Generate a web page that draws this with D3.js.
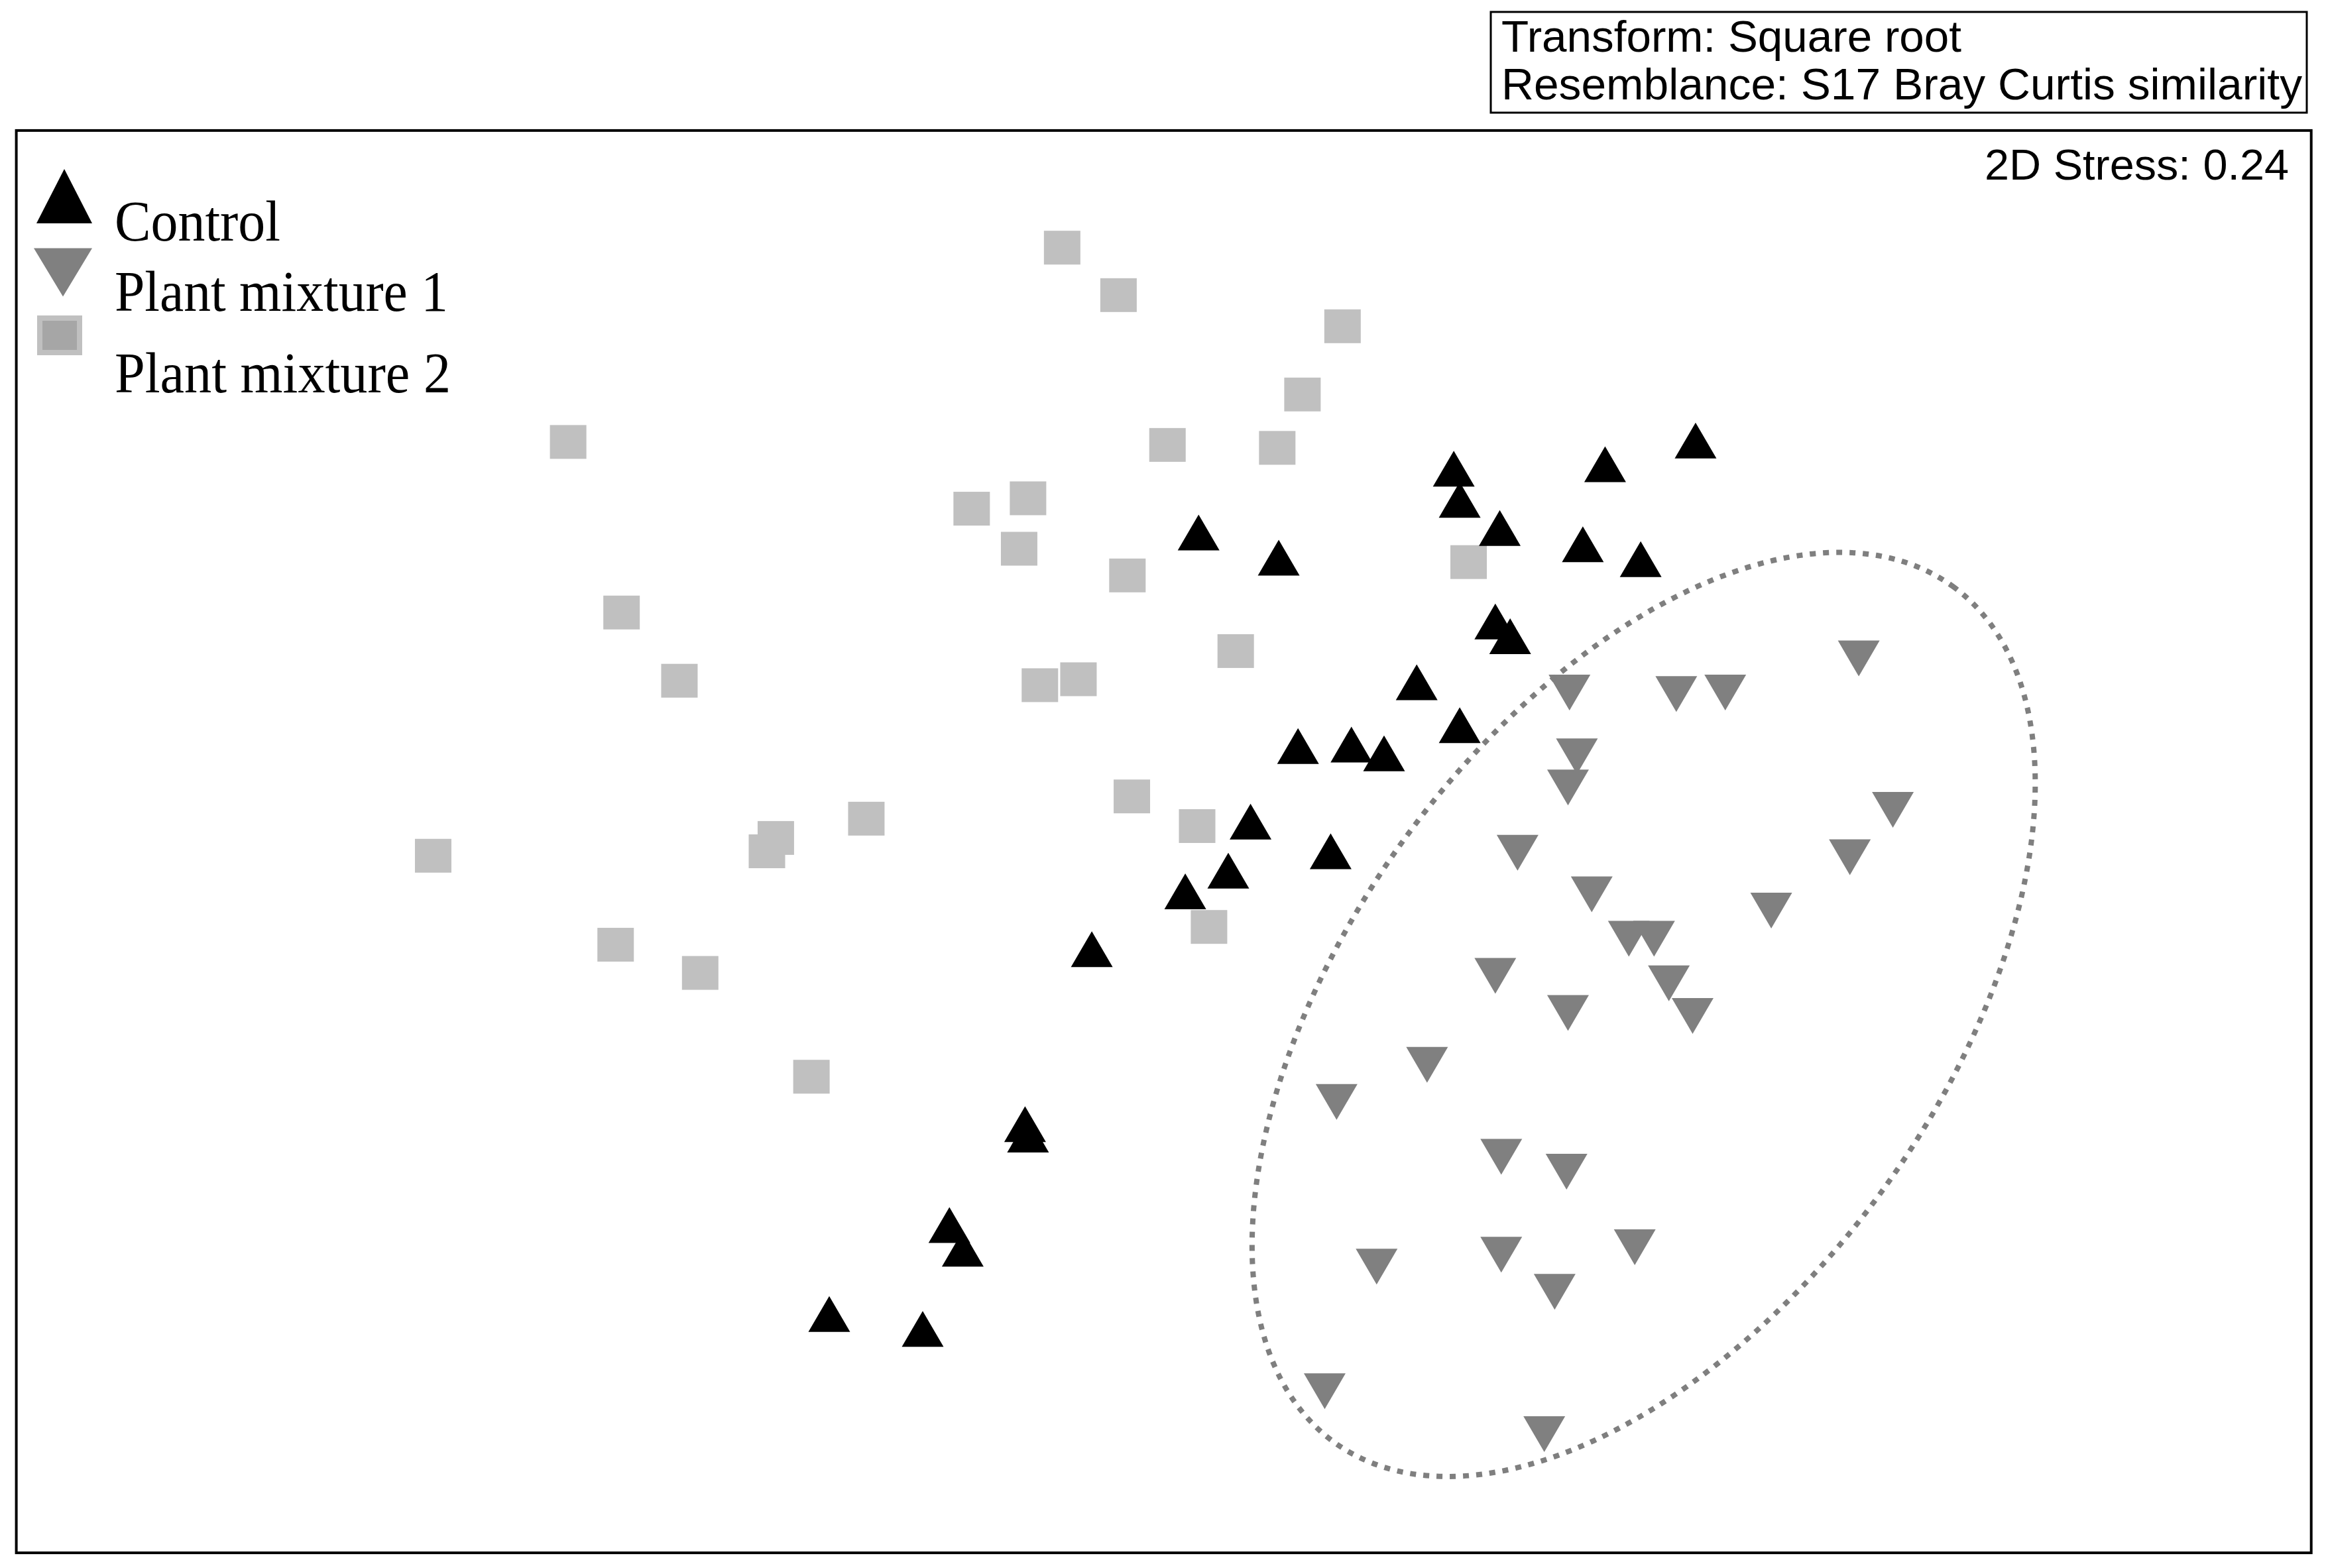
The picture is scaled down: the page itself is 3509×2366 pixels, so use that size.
<!DOCTYPE html>
<html><head><meta charset="utf-8">
<script src="https://cdn.jsdelivr.net/npm/d3@7"></script>
<style>html,body{margin:0;padding:0;background:#fff;} svg{display:block;}</style>
</head><body>
<svg id="chart" width="3509" height="2366"></svg>
<script>
// ---- data (NMDS coordinates, arbitrary units) ----
const groups = ["Control", "Plant mixture 1", "Plant mixture 2"];

const controlX = [3.58, 2.97, 1.95, 1.99, 2.26, 2.82, 3.21, 0.23, 0.77, 2.23, 2.33, 1.70, 1.99, 0.90, 1.26, 1.48, 0.58, 1.12, 0.43, 0.14, -0.49, -0.94, -0.92, -1.45, -1.36, -2.26, -1.63];
const controlY = [2.71, 2.55, 2.52, 2.31, 2.12, 2.01, 1.91, 2.09, 1.92, 1.49, 1.39, 1.08, 0.79, 0.65, 0.66, 0.60, 0.14, -0.06, -0.19, -0.33, -0.72, -1.90, -1.97, -2.58, -2.74, -3.18, -3.28];

const mix1X = [4.68, 2.73, 3.45, 3.78, 2.78, 2.72, 4.91, 2.38, 4.62, 2.88, 4.09, 3.13, 3.30, 2.23, 3.40, 2.72, 3.56, 1.77, 1.16, 2.27, 2.71, 1.43, 2.27, 3.17, 2.63, 1.08, 2.56];
const mix1Y = [1.24, 1.01, 1.00, 1.01, 0.58, 0.37, 0.22, -0.07, -0.10, -0.35, -0.46, -0.65, -0.65, -0.90, -0.95, -1.15, -1.17, -1.50, -1.75, -2.12, -2.22, -2.86, -2.78, -2.73, -3.03, -3.70, -3.99];

const mix2X = [-0.69, -0.31, 1.20, 0.93, -4.02, 0.02, 0.76, -0.92, -1.30, -0.98, 2.05, -0.25, -3.66, 0.48, -3.27, -0.58, -0.84, -0.22, -2.01, 0.22, -2.62, -2.68, -4.93, 0.30, -3.70, -3.13, -2.38];
const mix2Y = [4.01, 3.69, 3.48, 3.02, 2.70, 2.68, 2.66, 2.32, 2.25, 1.98, 1.89, 1.80, 1.55, 1.29, 1.09, 1.10, 1.06, 0.31, 0.16, 0.11, 0.03, -0.06, -0.09, -0.57, -0.69, -0.88, -1.58];

// dotted ellipse around Plant mixture 1
const ellipseCenter = [3.23, -1.16];
const ellipseAxes = [3.56, 2.00];
const ellipseAngleDeg = 54.2;

const stressLabel = "2D Stress: 0.24";
const infoLines = ["Transform: Square root", "Resemblance: S17 Bray Curtis similarity"];

const xDomain = [-7.74, 7.73];
const yDomain = [-4.79, 4.80];

// ---- drawing ----
const svg = d3.select("#chart");
const frame = {left: 24.6, top: 196.9, right: 3486.7, bottom: 2343.1};
const x = d3.scaleLinear().domain(xDomain).range([frame.left, frame.right]);
const y = d3.scaleLinear().domain(yDomain).range([frame.bottom, frame.top]);

svg.append("rect").attr("width", 3509).attr("height", 2366).attr("fill", "#fff");

// info box
svg.append("rect").attr("x", 2249).attr("y", 18).attr("width", 1231).attr("height", 152)
  .attr("fill", "none").attr("stroke", "#000").attr("stroke-width", 3);
const infoG = svg.append("g").attr("font-family", "'Liberation Sans', Arial, sans-serif").attr("font-size", 67).attr("fill", "#000");
infoG.append("text").attr("x", 2265).attr("y", 78).attr("textLength", 694).attr("lengthAdjust", "spacingAndGlyphs").text(infoLines[0]);
infoG.append("text").attr("x", 2265).attr("y", 150).attr("textLength", 1208).attr("lengthAdjust", "spacingAndGlyphs").text(infoLines[1]);

// plot frame
svg.append("rect").attr("x", frame.left).attr("y", frame.top)
  .attr("width", frame.right - frame.left).attr("height", frame.bottom - frame.top)
  .attr("fill", "none").attr("stroke", "#000").attr("stroke-width", 4);

// stress label
svg.append("text").attr("x", 2994).attr("y", 271)
  .attr("font-family", "'Liberation Sans', Arial, sans-serif").attr("font-size", 64)
  .attr("textLength", 459).attr("lengthAdjust", "spacingAndGlyphs").attr("fill", "#000").text(stressLabel);

// marker shapes
const TW = 63, TH = 54, SW = 55, SH = 51;
const upTri = (w, h) => `M0,${-h/2}L${w/2},${h/2}L${-w/2},${h/2}Z`;
const downTri = (w, h) => `M${-w/2},${-h/2}L${w/2},${-h/2}L0,${h/2}Z`;

const mix2 = mix2X.map((v, i) => ({x: v, y: mix2Y[i]}));
const mix1 = mix1X.map((v, i) => ({x: v, y: mix1Y[i]}));
const ctrl = controlX.map((v, i) => ({x: v, y: controlY[i]}));

svg.append("g").selectAll("rect").data(mix2).join("rect")
  .attr("x", d => x(d.x) - SW/2).attr("y", d => y(d.y) - SH/2)
  .attr("width", SW).attr("height", SH).attr("fill", "#c0c0c0");

svg.append("g").selectAll("path").data(mix1).join("path")
  .attr("transform", d => `translate(${x(d.x)},${y(d.y)})`)
  .attr("d", downTri(TW, TH)).attr("fill", "#808080");

svg.append("g").selectAll("path").data(ctrl).join("path")
  .attr("transform", d => `translate(${x(d.x)},${y(d.y)})`)
  .attr("d", upTri(TW, TH)).attr("fill", "#000");

// ellipse
const ecx = x(ellipseCenter[0]), ecy = y(ellipseCenter[1]);
svg.append("ellipse").attr("cx", ecx).attr("cy", ecy)
  .attr("rx", Math.abs(x(ellipseAxes[0]) - x(0))).attr("ry", Math.abs(y(ellipseAxes[1]) - y(0)))
  .attr("transform", `rotate(${-ellipseAngleDeg},${ecx},${ecy})`)
  .attr("fill", "none").attr("stroke", "#7f7f7f").attr("stroke-width", 8).attr("stroke-dasharray", "9 11");

// legend
const legG = svg.append("g");
legG.append("path").attr("transform", "translate(97,296)").attr("d", upTri(84, 82)).attr("fill", "#000");
legG.append("path").attr("transform", "translate(95,411)").attr("d", downTri(88, 73)).attr("fill", "#808080");
legG.append("rect").attr("x", 60).attr("y", 480).attr("width", 60).attr("height", 52)
  .attr("fill", "#a6a6a6").attr("stroke", "#c0c0c0").attr("stroke-width", 8);
const legText = [{t: groups[0], y: 363, w: 250}, {t: groups[1], y: 469, w: 503}, {t: groups[2], y: 592, w: 507}];
legG.selectAll("text").data(legText).join("text")
  .attr("x", 173).attr("y", d => d.y)
  .attr("font-family", "'Liberation Serif', 'Times New Roman', serif").attr("font-size", 86)
  .attr("textLength", d => d.w).attr("lengthAdjust", "spacingAndGlyphs").attr("fill", "#000")
  .text(d => d.t);
</script>
</body></html>
